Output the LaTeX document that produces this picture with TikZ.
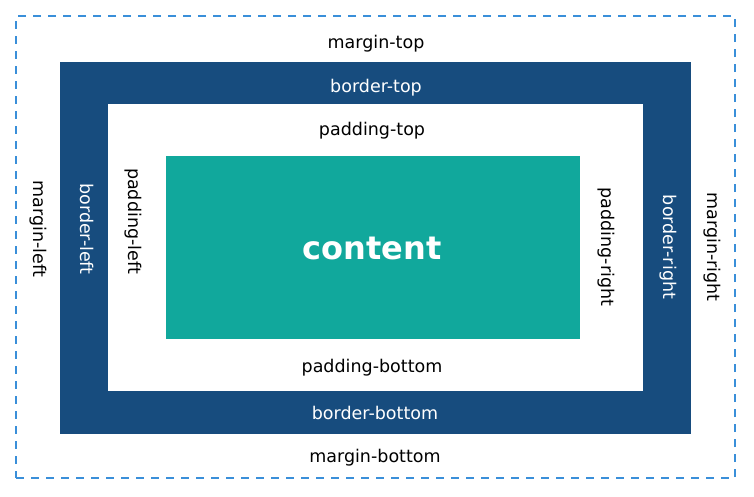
\documentclass[tikz,border=0pt]{standalone}
\usepackage{fontspec}
\setmainfont{DejaVu Sans}
\usetikzlibrary{positioning}

\definecolor{borderblue}{HTML}{174C7E}
\definecolor{contentteal}{HTML}{11A89C}
\definecolor{marginblue}{HTML}{3A8FD9}

\begin{document}
\begin{tikzpicture}[x=1pt, y=-1pt,
    area/.style={rectangle, inner sep=0pt, outer sep=0pt},
    lbl/.style={font=\fontsize{17.5}{20}\selectfont, inner sep=0pt},
    side/.style={lbl, rotate=-90},
    wlbl/.style={lbl, text=white},
    wside/.style={side, text=white}
]
\useasboundingbox (0,0) rectangle (754,496);

% boxes, outside in
\node[area, draw=marginblue, line width=1.4pt, dash pattern=on 8pt off 7pt,
      minimum width=719pt, minimum height=462pt] (margin) at (375.5,247) {};
\node[area, fill=borderblue, minimum width=631pt, minimum height=372pt] (border) at (375.5,248) {};
\node[area, fill=white, minimum width=535pt, minimum height=287pt] (padding) at (375.5,247.5) {};
\node[area, fill=contentteal, minimum width=414pt, minimum height=183pt] (content) at (373,247.5) {};
\node[font=\fontsize{32}{36}\selectfont\bfseries, text=white] (contenttxt) at (372,248) {content};

% labels
\node[lbl] (mtop) at (376,43.5) {margin-top};
\node[wlbl] (btop) at (376,87.5) {border-top};
\node[lbl] (ptop) at (372,130.5) {padding-top};
\node[lbl] (pbot) at (372,367.5) {padding-bottom};
\node[wlbl] (bbot) at (375,412.5) {border-bottom};
\node[lbl] (mbot) at (375,457.5) {margin-bottom};

\node[side] (mleft) at (38,229) {margin-left};
\node[wside] (bleft) at (87,229) {border-left};
\node[side] (pleft) at (133,221) {padding-left};
\node[side] (pright) at (606,247) {padding-right};
\node[wside] (bright) at (668,247) {border-right};
\node[side] (mright) at (712,247) {margin-right};
\end{tikzpicture}
\end{document}
